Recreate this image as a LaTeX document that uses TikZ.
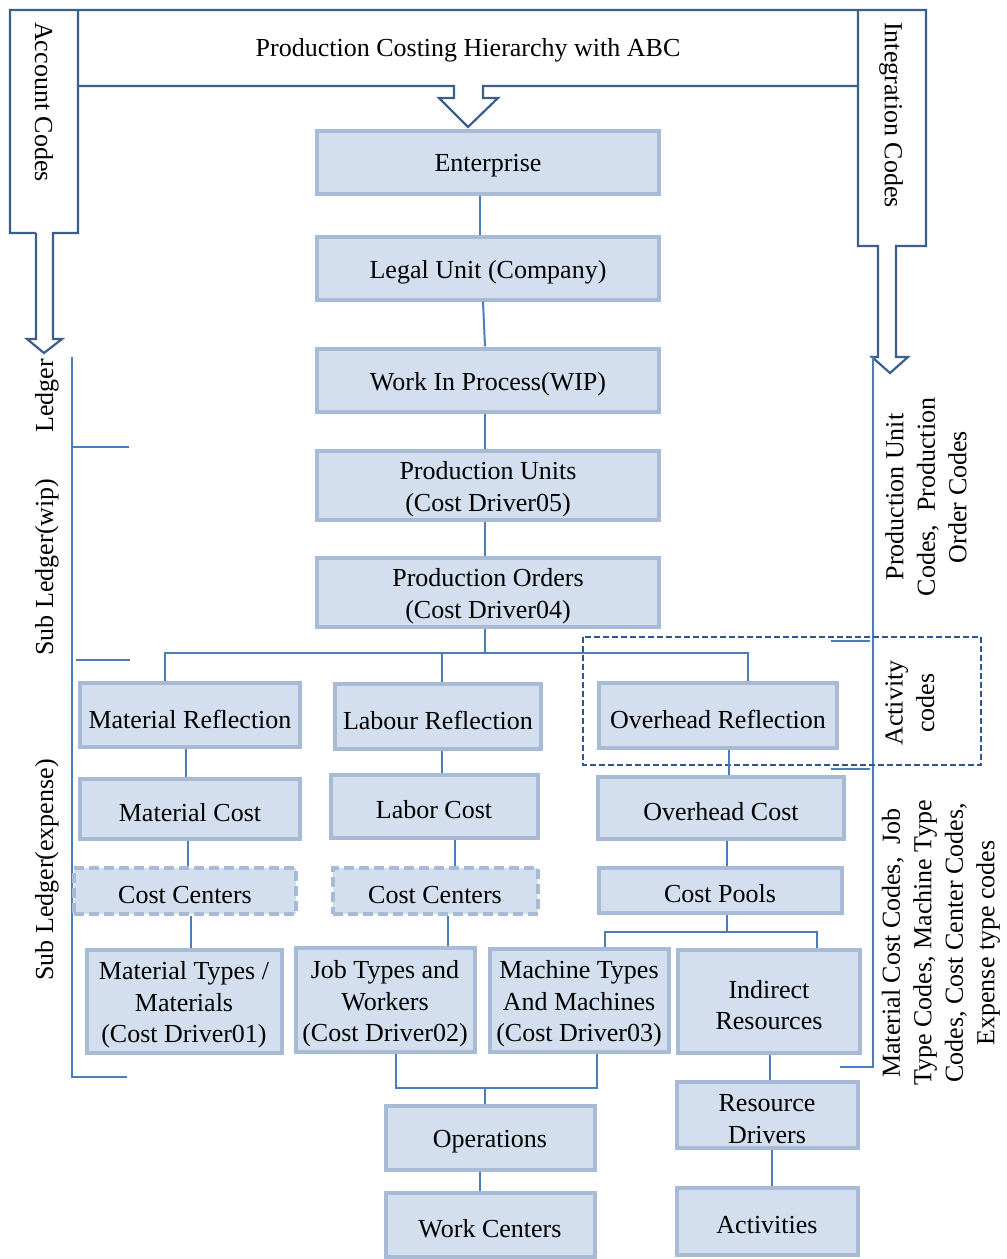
\documentclass[tikz,border=0pt]{standalone}
\usepackage{fontspec}
\setmainfont{Liberation Serif}
\usetikzlibrary{calc}
\definecolor{boxfill}{RGB}{211,223,238}
\definecolor{boxline}{RGB}{167,187,215}
\definecolor{conncol}{RGB}{74,126,187}
\definecolor{framecol}{RGB}{59,94,140}
\definecolor{dashcol}{RGB}{47,85,151}
\newcommand\myfs{\fontsize{26}{31.5}\selectfont}
\begin{document}
\begin{tikzpicture}[x=1pt,y=-1pt,
  lbl/.style={font=\myfs, align=center, inner sep=0pt},
  box/.style={draw=boxline, fill=boxfill, line width=4pt, inner sep=0pt,
    label={[lbl, yshift=-4pt]center:{#1}}},
  dbox/.style={box={#1}, dash pattern=on 10pt off 5pt},
  conn/.style={draw=conncol, line width=2pt},
  brk/.style={draw=conncol, line width=2pt},
  frame/.style={draw=framecol, line width=2.2pt, line join=miter}]
\useasboundingbox (0,0) rectangle (1007,1259);

% frame with arrows
\draw[frame] (36,233) -- (10,233) -- (10,10) -- (926,10) -- (926,246) -- (896,246) -- (896,357) -- (908,357) -- (890,373) -- (872,357) -- (878,357) -- (878,246) -- (858,246) -- (858,10);
\draw[frame] (78,10) -- (78,233) -- (53,233) -- (53,339) -- (62,339) -- (44,353) -- (27,339) -- (36,339) -- (36,233);
\draw[frame] (78,86) -- (454,86) -- (454,98) -- (439,98) -- (468,127) -- (498,98) -- (483,98) -- (483,86) -- (858,86);

\node[lbl] (title) at (468,50) {Production Costing Hierarchy with ABC};
\node[lbl, rotate=-90] (acct) at (44,102) {Account Codes};
\node[lbl, rotate=-90] (integ) at (891,115) {Integration Codes};

% brackets
\draw[brk] (127,1077) -- (72,1077) -- (72,357);
\draw[brk] (72,447) -- (129,447);
\draw[brk] (76,660) -- (130,660);
\draw[brk] (840,1067) -- (873,1067) -- (873,357);
\draw[brk] (831,641) -- (870,641);
\draw[brk] (831,769) -- (870,769);
\draw[draw=dashcol, line width=1.6pt, dash pattern=on 6pt off 3pt] (583,637) rectangle (981,765);

\node[lbl, rotate=90] (ledger) at (47,396) {Ledger};
\node[lbl, rotate=90] (subwip) at (47,567) {Sub Ledger(wip)};
\node[lbl, rotate=90] (subexp) at (47,870) {Sub Ledger(expense)};
\node[lbl, rotate=90] (r1) at (926,497) {Production Unit\\Codes,\ \ Production\\Order Codes};
\node[lbl, rotate=90] (r2) at (910,703) {Activity\\codes};
\node[lbl, rotate=90] (r3) at (941,943) {Material Cost Codes,\ \ Job\\Type Codes, Machine Type\\Codes, Cost Center Codes,\\Expense type codes};

% nodes
\node[box={Enterprise}, minimum width=342, minimum height=63] (ent) at (488,162) {};
\node[box={Legal Unit (Company)}, minimum width=342, minimum height=63] (legal) at (488,268) {};
\node[box={Work In Process(WIP)}, minimum width=342, minimum height=63] (wip) at (488,380) {};
\node[box={Production Units\\(Cost Driver05)}, minimum width=342, minimum height=69] (pu) at (488,485) {};
\node[box={Production Orders\\(Cost Driver04)}, minimum width=342, minimum height=69] (po) at (488,592) {};
\node[box={Material Reflection}, minimum width=220, minimum height=64] (matref) at (190,715) {};
\node[box={Labour Reflection}, minimum width=206, minimum height=65] (labref) at (438,716) {};
\node[box={Overhead Reflection}, minimum width=238, minimum height=65] (ovref) at (718,715) {};
\node[box={Material Cost}, minimum width=220, minimum height=60] (matcost) at (190,809) {};
\node[box={Labor Cost}, minimum width=207, minimum height=63] (labcost) at (434,806) {};
\node[box={Overhead Cost}, minimum width=246, minimum height=62] (ovcost) at (721,808) {};
\node[dbox={Cost Centers}, minimum width=222, minimum height=46] (cc1) at (185,891) {};
\node[dbox={Cost Centers}, minimum width=205, minimum height=46] (cc2) at (435,891) {};
\node[box={Cost Pools}, minimum width=243, minimum height=45] (pools) at (720,890) {};
\node[box={Material Types /\\Materials\\(Cost Driver01)}, minimum width=195, minimum height=103] (mtypes) at (184,1001) {};
\node[box={Job Types and\\Workers\\(Cost Driver02)}, minimum width=179, minimum height=104] (jtypes) at (385,1000) {};
\node[box={Machine Types\\And Machines\\(Cost Driver03)}, minimum width=179, minimum height=103] (mach) at (579,1000) {};
\node[box={Indirect\\Resources}, minimum width=182, minimum height=103] (indir) at (769,1001) {};
\node[box={Operations}, minimum width=209, minimum height=64] (ops) at (490,1138) {};
\node[box={Work Centers}, minimum width=209, minimum height=64] (wc) at (490,1225) {};
\node[box={Resource\\Drivers}, minimum width=181, minimum height=66] (rdrv) at (767,1115) {};
\node[box={Activities}, minimum width=181, minimum height=67] (acts) at (767,1221) {};

% connectors
\coordinate (busL) at (165,653);
\coordinate (busR) at (748,653);
\coordinate (pbusL) at (605,932);
\coordinate (pbusR) at (817,932);
\coordinate (obusL) at (396,1088);
\coordinate (obusR) at (597,1088);

\draw[conn] ([xshift=-8]ent.south) -- ([xshift=-8]legal.north);
\draw[conn] ([xshift=-5]legal.south) -- ([xshift=-3]wip.north);
\draw[conn] ([xshift=-3]wip.south) -- ([xshift=-3]pu.north);
\draw[conn] ([xshift=-3]pu.south) -- ([xshift=-3]po.north);
\draw[conn] ([xshift=-3]po.south) -- ([xshift=-3]po.south |- busL);
\draw[conn] (matref.north -| busL) -- (busL) -- (busR) -- (ovref.north -| busR);
\draw[conn] ([xshift=4]labref.north) -- ([xshift=4]labref.north |- busL);
\draw[conn] ([xshift=-4]matref.south) -- ([xshift=-4]matref.south |- matcost.north);
\draw[conn] ([xshift=-2]matcost.south) -- ([xshift=-2]matcost.south |- cc1.north);
\draw[conn] ([xshift=6]cc1.south) -- ([xshift=6]cc1.south |- mtypes.north);
\draw[conn] ([xshift=4]labref.south) -- ([xshift=4]labref.south |- labcost.north);
\draw[conn] ([xshift=21]labcost.south) -- ([xshift=21]labcost.south |- cc2.north);
\draw[conn] ([xshift=13]cc2.south) -- ([xshift=13]cc2.south |- jtypes.north);
\draw[conn] ([xshift=11]ovref.south) -- ([xshift=11]ovref.south |- ovcost.north);
\draw[conn] ([xshift=6]ovcost.south) -- ([xshift=6]ovcost.south |- pools.north);
\draw[conn] ([xshift=7]pools.south) -- ([xshift=7]pools.south |- pbusL);
\draw[conn] (mach.north -| pbusL) -- (pbusL) -- (pbusR) -- (indir.north -| pbusR);
\draw[conn] (jtypes.south -| obusL) -- (obusL) -- (obusR) -- (mach.south -| obusR);
\draw[conn] ([xshift=-5]ops.north) -- ([xshift=-5]ops.north |- obusL);
\draw[conn] ([xshift=-10]ops.south) -- ([xshift=-10]ops.south |- wc.north);
\draw[conn] ([xshift=1]indir.south) -- ([xshift=1]indir.south |- rdrv.north);
\draw[conn] ([xshift=5]rdrv.south) -- ([xshift=5]rdrv.south |- acts.north);
\end{tikzpicture}
\end{document}
